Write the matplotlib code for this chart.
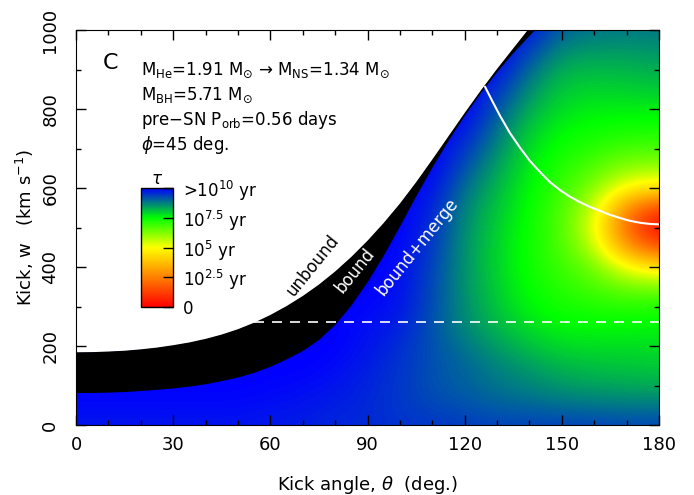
import numpy as np
import matplotlib
matplotlib.use('Agg')
import matplotlib.pyplot as plt
from matplotlib.colors import LinearSegmentedColormap

# grid of the merger-time map (log10 tau / yr), rows = kick w, cols = kick angle
theta_grid = [0, 10, 20, 30, 40, 50, 60, 70, 80, 90, 100, 110, 120, 130, 140, 150, 160, 170, 180]
w_grid = [0, 50, 100, 150, 200, 250, 300, 350, 400, 450, 500,
          550, 600, 650, 700, 750, 800, 850, 900, 950, 1000]
log_tau = [
    [9.8]*6 + [9.75, 9.7, 9.6, 9.6, 9.5, 9.45, 9.4, 9.35, 9.35, 9.35, 9.35, 9.3, 9.3],
    [9.9]*6 + [9.85, 9.8, 9.7, 9.6, 9.45, 9.3, 9.2, 9.05, 9.0, 8.9, 8.85, 8.8, 8.8],
    [10]*6 + [9.95, 9.9, 9.8, 9.65, 9.45, 9.2, 9.05, 8.85, 8.7, 8.5, 8.4, 8.35, 8.3],
    [10]*8 + [9.9, 9.7, 9.5, 9.2, 9.0, 8.7, 8.45, 8.2, 8.1, 8.05, 8.0],
    [10]*9 + [9.8, 9.55, 9.2, 8.85, 8.45, 8.1, 7.85, 7.8, 7.8, 7.8],
    [10]*9 + [9.85, 9.7, 9.2, 8.65, 8.2, 7.8, 7.55, 7.55, 7.55, 7.6],
    [10]*9 + [9.95, 9.8, 9.25, 8.6, 8.05, 7.55, 7.3, 7.2, 7.1, 7.2],
    [10]*10 + [9.85, 9.3, 8.55, 7.95, 7.45, 7.1, 6.8, 6.4, 6.3],
    [10]*10 + [9.9, 9.35, 8.55, 7.9, 7.35, 6.95, 6.4, 5.1, 4.4],
    [10]*10 + [9.95, 9.45, 8.55, 7.9, 7.35, 6.8, 5.7, 3.0, 1.6],
    [10]*11 + [9.55, 8.6, 7.95, 7.4, 6.75, 5.3, 2.0, 0.0],
    [10]*11 + [9.7, 8.7, 8.05, 7.45, 6.8, 5.6, 2.7, 1.3],
    [10]*11 + [9.85, 8.9, 8.2, 7.55, 6.95, 6.2, 4.8, 4.4],
    [10]*12 + [9.2, 8.4, 7.65, 7.15, 6.7, 6.1, 6.0],
    [10]*12 + [9.5, 8.65, 7.8, 7.35, 7.1, 6.8, 6.8],
    [10]*12 + [9.8, 8.9, 8.0, 7.55, 7.4, 7.3, 7.3],
    [10]*13 + [9.2, 8.3, 7.8, 7.65, 7.65, 7.65],
    [10]*13 + [9.55, 8.6, 8.0, 7.9, 7.95, 8.0],
    [10]*13 + [9.9, 8.95, 8.25, 8.2, 8.2, 8.3],
    [10]*14 + [9.4, 8.6, 8.5, 8.5, 8.55],
    [10]*14 + [9.8, 9.0, 8.85, 8.8, 8.8],
]

# unbound / bound limit
theta_unbound = [0, 5, 10, 15, 20, 25, 30, 35, 40, 45, 50, 55, 60, 65, 70, 75, 80, 85, 90, 95,
                 100, 105, 110, 115, 120, 125, 130, 135, 139.5]
w_unbound = [184, 184.5, 186, 188, 191.5, 196, 202, 209, 218, 229, 242.5, 259, 278.5, 301,
             326.5, 355.5, 388.5, 425.5, 466.5, 511.5, 560.5, 614.5, 672, 731, 790, 847,
             901.5, 953.5, 1000]
# bound / bound+merge limit
theta_merge = [0, 5, 10, 15, 20, 25, 30, 35, 40, 45, 50, 55, 60, 65, 70, 75, 80, 85, 90, 95,
               100, 105, 110, 115, 120, 125, 130, 135, 140, 142.5]
w_merge = [81, 81, 82, 83.5, 86, 89, 92.5, 97, 103, 111, 120, 132, 147, 166, 187, 215, 253,
           302, 361, 428, 502, 578, 651, 719, 782, 840, 893, 941, 985, 1006]

# white curve
theta_curve = [126.3, 128.6, 130.9, 134.0, 137.1, 140.2, 143.3, 146.3, 149.4, 152.5,
               155.6, 158.7, 161.8, 164.9, 168.0, 171.0, 174.1, 177.2, 180]
w_curve = [856, 819, 783, 739, 702, 668, 640, 615, 595, 578,
           564, 552, 542, 532, 524, 517, 512, 509, 508]

# dashed line
dash_theta = [55, 180]
dash_w = 260

cbar_ticks = [0, 2.5, 5, 7.5, 10]
cbar_labels = ['0', r'10$^{2.5}$ yr', r'10$^{5}$ yr', r'10$^{7.5}$ yr', r'>10$^{10}$ yr']

info_lines = [r'M$_{\rm He}$=1.91 M$_{\odot}$ → M$_{\rm NS}$=1.34 M$_{\odot}$',
              r'M$_{\rm BH}$=5.71 M$_{\odot}$',
              r'pre$-$SN P$_{\rm orb}$=0.56 days',
              r'$\phi$=45 deg.']

tau_cmap = LinearSegmentedColormap.from_list(
    'tau', [(0.0, (1, 0, 0)), (0.5, (1, 1, 0)), (0.75, (0, 1, 0)), (1.0, (0, 0, 1))])

fig = plt.figure(figsize=(6.94, 4.95), dpi=100)
ax = fig.add_axes([76/694, 70/495, 583/694, 395/495])

im = ax.imshow(np.array(log_tau), origin='lower', extent=[-5, 185, -25, 1025],
               aspect='auto', cmap=tau_cmap, vmin=0, vmax=10,
               interpolation='bicubic', interpolation_stage='data', zorder=0)

ax.fill_between(theta_unbound, w_unbound, 1000, color='white', lw=0, zorder=1)
ax.fill(np.r_[theta_unbound, theta_merge[::-1]], np.r_[w_unbound, w_merge[::-1]],
        color='black', lw=0, zorder=1)

ax.plot(theta_curve, w_curve, color='white', lw=1.5, zorder=2)
ax.plot(dash_theta, [dash_w, dash_w], color='white', lw=1.2, dashes=(6, 4.8), zorder=2)

ax.text(10.5, 916, 'C', fontsize=16, ha='center', va='center', zorder=3)
for i, line in enumerate(info_lines):
    ax.text(20.1, 886 - 63*i, line, fontsize=12, ha='left', va='baseline', zorder=3)

ax.text(73.2, 405, 'unbound', fontsize=12, color='black', rotation=51,
        ha='center', va='center', rotation_mode='anchor', zorder=3)
ax.text(86.1, 390, 'bound', fontsize=12, color='white', rotation=51,
        ha='center', va='center', rotation_mode='anchor', zorder=3)
ax.text(105.4, 451, 'bound+merge', fontsize=12, color='white', rotation=51,
        ha='center', va='center', rotation_mode='anchor', zorder=3)

ax.set_xlim(0, 180)
ax.set_ylim(0, 1000)
ax.set_xticks(np.arange(0, 181, 30))
ax.set_xticks(np.arange(0, 181, 10), minor=True)
ax.set_yticks(np.arange(0, 1001, 200))
ax.set_yticks(np.arange(0, 1001, 100), minor=True)
ax.tick_params(which='both', direction='in', top=True, right=True, width=1, labelsize=13)
ax.tick_params(which='major', length=7)
ax.tick_params(which='minor', length=3.5)
ax.tick_params(axis='y', labelrotation=90, pad=12)
ax.tick_params(axis='x', pad=8)
for lab in ax.get_yticklabels():
    lab.set_va('center')

ax.set_xlabel(r'Kick angle, $\theta$  (deg.)', fontsize=13)
ax.set_ylabel(r'Kick, w   (km s$^{-1}$)', fontsize=13)
ax.xaxis.set_label_coords(0.5, -0.125)
ax.yaxis.set_label_coords(-0.068, 0.5)

cax = fig.add_axes([141/694, (495-307)/495, 32/694, 119/495])
cb = fig.colorbar(im, cax=cax, ticks=cbar_ticks)
cb.ax.set_yticklabels(cbar_labels)
cb.ax.tick_params(direction='in', length=7, width=1, labelsize=12, pad=7)
cb.outline.set_linewidth(1)
cax.set_title(r'$\tau$', fontsize=12, pad=2)

fig.savefig('out.png', dpi=100)
